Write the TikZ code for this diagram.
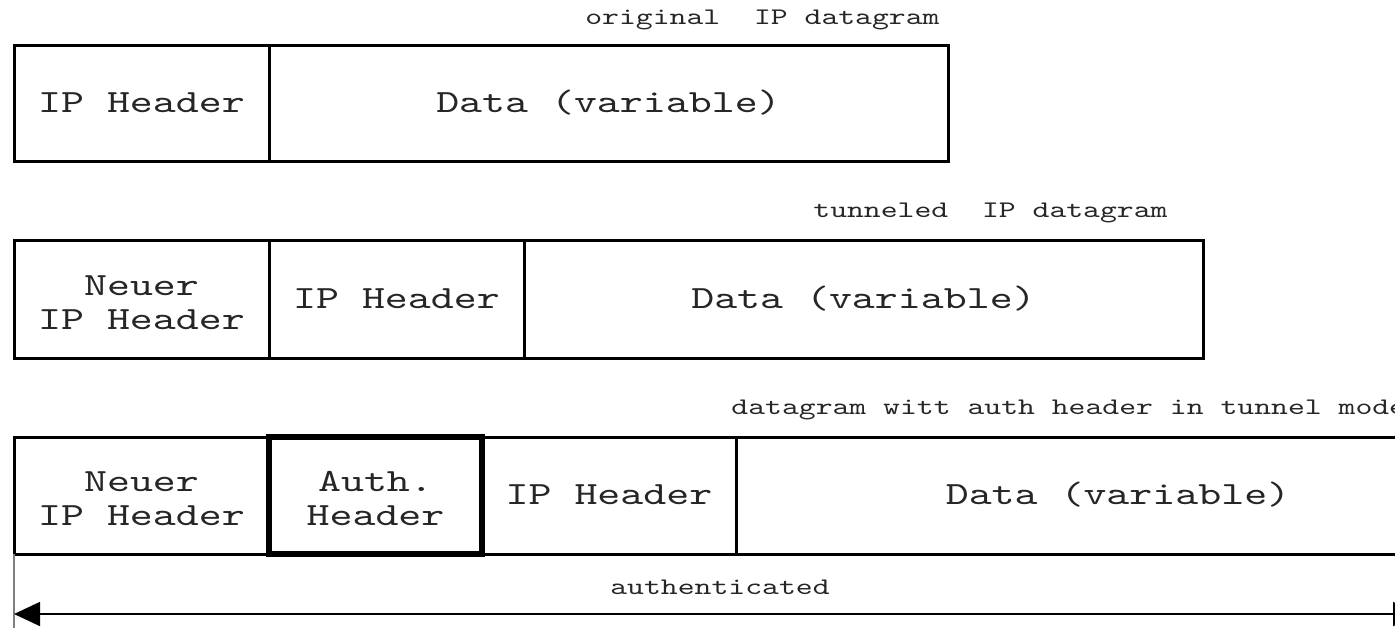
\documentclass[tikz,border=0pt]{standalone}
\usepackage{fontspec}
\newfontfamily\cour{lmmono10-regular.otf}[FakeStretch=1.35]
\usetikzlibrary{arrows.meta}
\newcommand{\topstrut}{\rule{0pt}{13.4pt}}
\begin{document}
\begin{tikzpicture}[x=0.5pt,y=-0.5pt,
  fldbase/.style={draw=black, line width=1.5pt, inner sep=0pt, outer sep=0pt,
    font=\cour\fontsize{16.2pt}{17pt}\selectfont, align=center, text=black!85},
  fld/.style={fldbase, text height=0.611em+3pt, text depth=0pt},
  fldtwo/.style={fldbase},
  authfld/.style={fldtwo, line width=2.6pt},
  lbl/.style={font=\cour\fontsize{11.9pt}{14pt}\selectfont, text=black!85, inner sep=0pt, anchor=east}]
\useasboundingbox (0,0) rectangle (1395,628);
\clip (0,0) rectangle (1395,628);
% row 1
\node[fld, minimum width=255*0.5pt, minimum height=116*0.5pt] (h1) at (141.5,103) {IP Header};
\node[fld, minimum width=679*0.5pt, minimum height=116*0.5pt] (d1) at (608.5,103) {Data (variable)};
\node[lbl] (l1) at (940,20) {original\ \ IP datagram};
% row 2
\node[fldtwo, minimum width=255*0.5pt, minimum height=118*0.5pt] (n2) at (141.5,299) {\topstrut Neuer\\IP Header};
\node[fld, minimum width=255*0.5pt, minimum height=118*0.5pt] (h2) at (396.5,299) {IP Header};
\node[fld, minimum width=679*0.5pt, minimum height=118*0.5pt] (d2) at (863.5,299) {Data (variable)};
\node[lbl] (l2) at (1168,213) {tunneled\ \ IP datagram};
% row 3
\node[fldtwo, minimum width=255*0.5pt, minimum height=117*0.5pt] (n3) at (141.5,495.5) {\topstrut Neuer\\IP Header};
\node[fld, minimum width=254*0.5pt, minimum height=117*0.5pt] (h3) at (609,495.5) {IP Header};
\node[fld, minimum width=764*0.5pt, minimum height=117*0.5pt] (d3) at (1118,495.5) {Data (variable)};
\node[authfld, minimum width=213*0.5pt, minimum height=117*0.5pt] (a3) at (375.5,495.5) {\topstrut Auth.\\Header};
\node[lbl, anchor=west] (l3) at (731,410) {datagram witt auth header in tunnel mode};
% authenticated span
\coordinate (s0) at (14,554);
\coordinate (s1) at (14,628);
\coordinate (aL) at (14,614);
\coordinate (aR) at (1419,614);
\draw[gray, line width=1pt] (s0) -- (s1);
\draw[line width=0.8pt, {Triangle[length=13pt,width=12pt]}-{Triangle[length=13pt,width=12pt]}] (aL) -- (aR);
\node[font=\cour\fontsize{11.9pt}{14pt}\selectfont, text=black!85, inner sep=0pt] (auth) at (720,587) {authenticated};
\end{tikzpicture}
\end{document}
